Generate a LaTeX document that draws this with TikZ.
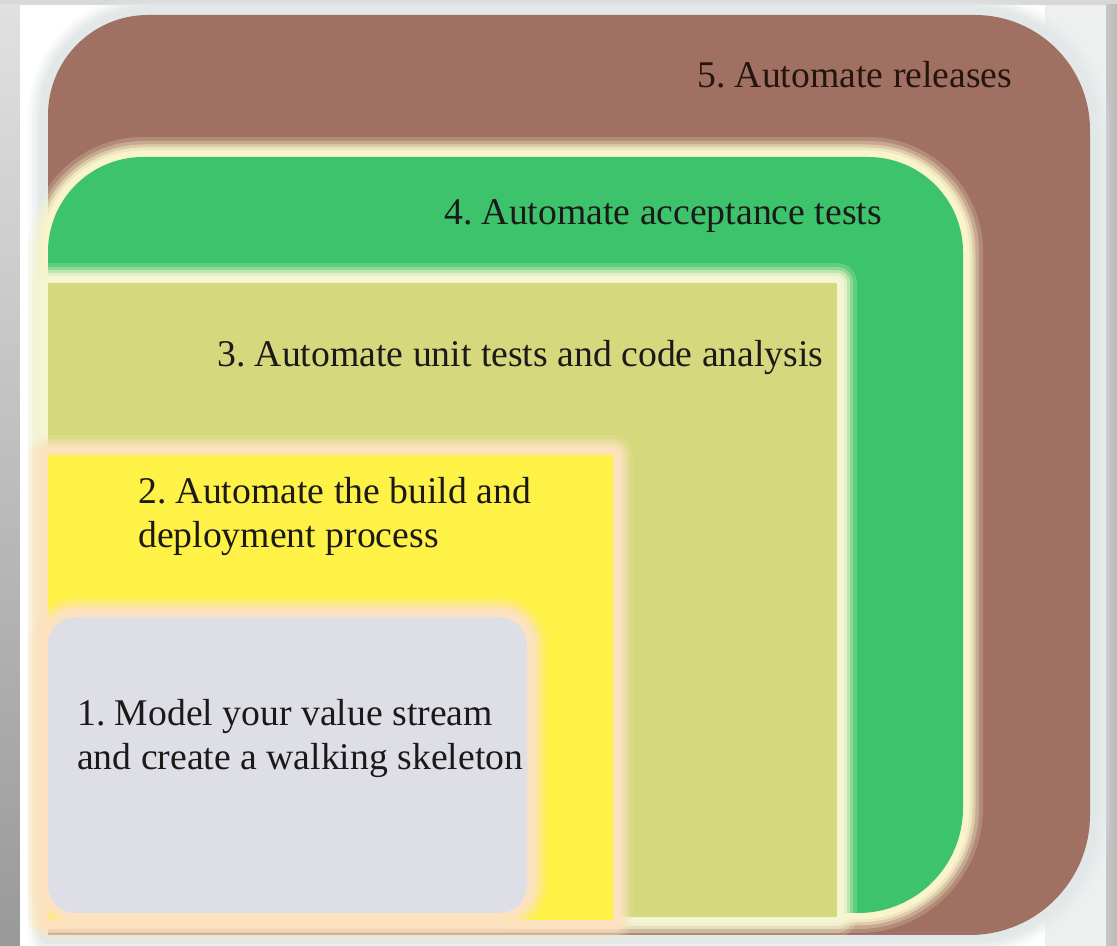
\documentclass[tikz,border=0pt]{standalone}
\usepackage{fontspec}
\setmainfont{Liberation Serif}
\frenchspacing

\definecolor{stripgray}{HTML}{D8D8D8}
\definecolor{paleside}{HTML}{EEF0F0}
\definecolor{brownfill}{HTML}{A07162}
\definecolor{greenfill}{HTML}{3DC36B}
\definecolor{olivefill}{HTML}{D5D87C}
\definecolor{yellowfill}{HTML}{FFF247}
\definecolor{grayfill}{HTML}{DEDEE6}
\definecolor{creamglow}{HTML}{F9F4CC}
\definecolor{paleglow}{HTML}{F4F5D2}
\definecolor{peachglow}{HTML}{FCE2BE}
\definecolor{mistglow}{HTML}{E2E8E8}
\definecolor{inkdark}{HTML}{1C1A18}
\definecolor{inkbrown}{HTML}{26150F}

\tikzset{
  glow/.style={draw=#1, line join=round},
  lbl/.style={font=\fontsize{37.7bp}{44.5bp}\selectfont, text=inkdark,
              inner sep=0pt, align=left},
}

% soft halo: concentric strokes, fading outwards
\newcommand{\halo}[2]{%
  \draw[glow=#1, line width=40bp, opacity=0.2] #2;
  \draw[glow=#1, line width=32bp, opacity=0.3] #2;
  \draw[glow=#1, line width=25bp, opacity=0.45] #2;
  \draw[glow=#1, line width=19bp, opacity=0.7] #2;
  \draw[glow=#1, line width=13bp] #2;
}

\begin{document}
\begin{tikzpicture}[x=1bp, y=1bp]
\useasboundingbox (0,0) rectangle (1117,946);

% page background
\fill[stripgray] (0,0) rectangle (1117,946);
\shade[top color=black!12, bottom color=black!40] (0,0) rectangle (20,941);
\fill[white] (20,0) rectangle (1045,941);
\fill[paleside] (1045,0) rectangle (1106,941);
\shade[left color=black!22, right color=black!27] (1106,0) rectangle (1117,941);

% nested stages, outermost first
\def\brownpath{(48,11) -- (48,831) arc[start angle=180, end angle=90, radius=100]
  -- (975,931) arc[start angle=90, end angle=0, radius=115]
  -- (1090,131) arc[start angle=0, end angle=-90, radius=120] -- cycle}
\def\greenpath{(48,33) -- (48,694) arc[start angle=180, end angle=90, radius=95]
  -- (868,789) arc[start angle=90, end angle=0, radius=95]
  -- (963,138) arc[start angle=0, end angle=-90, radius=105] -- cycle}
\def\olivepath{(48,29) rectangle (837,663)}
\def\yellowpath{(48,26) rectangle (613,491)}
\def\graypath{[rounded corners=28bp] (48,33) rectangle (527,329)}

\halo{mistglow}{\brownpath}
\fill[brownfill] \brownpath;

\halo{creamglow}{\greenpath}
\fill[greenfill] \greenpath;

\halo{paleglow}{\olivepath}
\fill[olivefill] \olivepath;

\halo{peachglow}{\yellowpath}
\fill[yellowfill] \yellowpath;

\halo{peachglow}{\graypath}
\fill[grayfill] \graypath;

% stage labels (multi-line labels are placed by their last baseline)
\node[lbl, text=inkbrown, anchor=base west] (t5) at (697,858) {5. Automate releases};
\node[lbl, anchor=base west] (t4) at (444,721) {4. Automate acceptance tests};
\node[lbl, anchor=base west] (t3) at (217,579) {3. Automate unit tests and code analysis};
\node[lbl, anchor=base west] (t2) at (138,398) {2. Automate the build and\\deployment process};
\node[lbl, anchor=base west] (t1) at (77,176) {1. Model your value stream\\and create a walking skeleton};
\end{tikzpicture}
\end{document}
